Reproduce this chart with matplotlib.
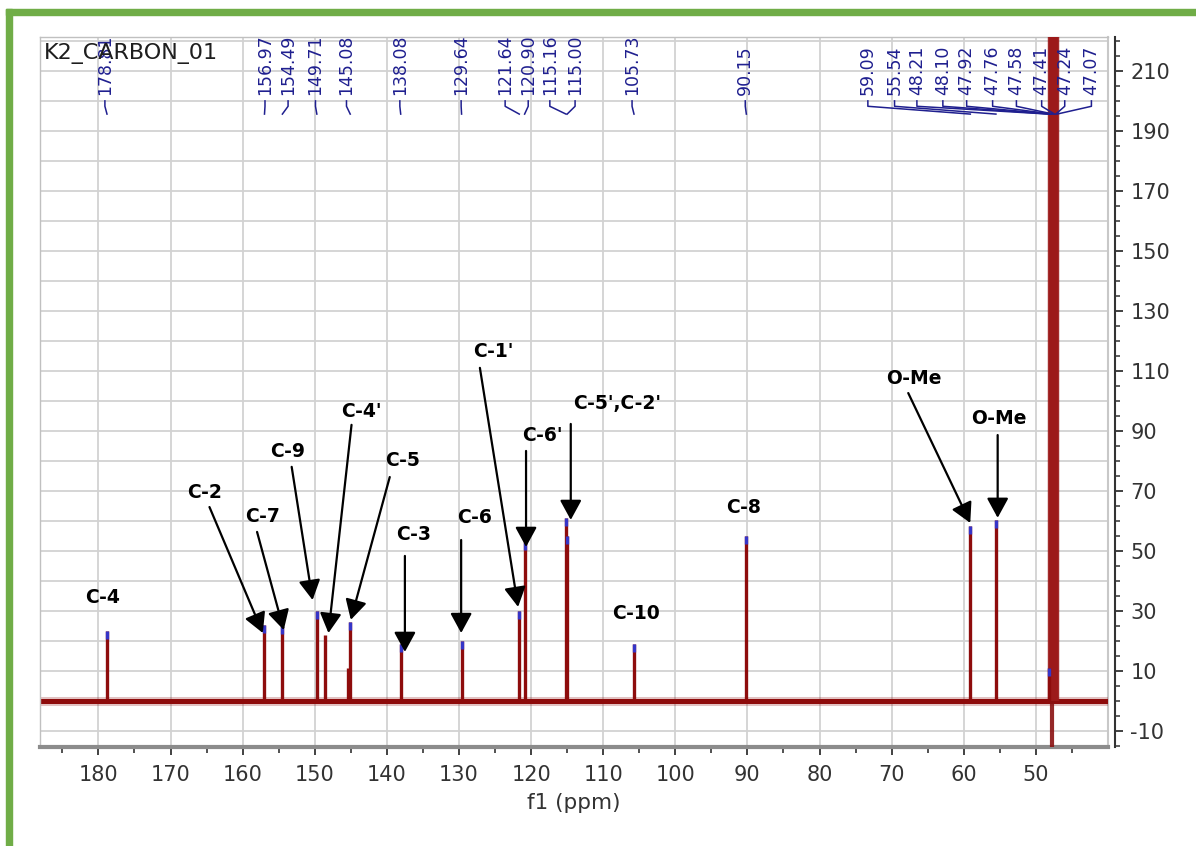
import matplotlib
matplotlib.use("Agg")
import matplotlib.pyplot as plt
from matplotlib.patches import Rectangle

plt.rcParams['font.family'] = ['DejaVu Sans']
plt.rcParams['axes.unicode_minus'] = False

# ---------------- data ----------------
peak_ppm = [178.81, 156.97, 154.49, 149.71, 148.60, 145.35, 145.08, 138.08, 129.64,
            121.64, 120.90, 115.16, 115.00, 105.73, 90.15, 59.09, 55.54]
peak_int = [23.5, 25.5, 25.0, 30.0, 22.0, 11.0, 26.5, 19.0, 20.0,
            30.0, 53.0, 61.0, 55.0, 19.0, 55.0, 58.5, 60.5]
peak_picked = [True, True, True, True, False, False, True, True, True,
               True, True, True, True, True, True, True, True]

solvent_ppm = [48.21, 48.10, 47.92, 47.76, 47.58, 47.41, 47.24, 47.07]
solvent_int = [11.0, 400.0, 400.0, 400.0, 400.0, 400.0, 400.0, 400.0]
solvent_dip_ppm = [47.76]
solvent_dip_int = [-40.0]

baseline_ppm = [188.1, 40.0]
baseline_int = [0.0, 0.0]

label_ppm = [178.81, 156.97, 154.49, 149.71, 145.08, 138.08, 129.64, 121.64, 120.90,
             115.16, 115.00, 105.73, 90.15, 59.09, 55.54, 48.21, 48.10, 47.92, 47.76,
             47.58, 47.41, 47.24, 47.07]
label_text = [f"{v:.2f}" for v in label_ppm]

assign_text = ["C-4", "C-2", "C-7", "C-9", "C-4'", "C-5", "C-3", "C-6", "C-1'",
               "C-6'", "C-5',C-2'", "C-10", "C-8", "O-Me", "O-Me"]
# arrow tips (ppm, intensity) ; None = no arrow
assign_tip = [None, (157.2, 22.8), (154.3, 23.8), (150.3, 33.8), (148.1, 22.8),
              (145.0, 27.2), (137.5, 16.5), (129.7, 22.8), (121.8, 31.5),
              (120.7, 51.5), (114.5, 60.5), None, None, (59.1, 59.5), (55.3, 61.2)]

x_ticks = list(range(180, 49, -10))
y_ticks = list(range(-10, 211, 20))

# ---------------- layout / style ----------------
TEXT_POS = [(179.4, 34.5), (165.3, 69.5), (157.3, 61.8), (153.7, 83.2), (143.5, 96.8),
            (137.8, 80.2), (136.3, 55.5), (127.9, 61.2), (125.2, 116.8), (118.5, 88.8),
            (108.1, 99.2), (105.5, 29.2), (90.6, 64.8), (66.9, 107.8), (55.1, 94.2)]
TAIL_POS = [None, (164.6, 64.8), (158.0, 56.5), (153.2, 78.2), (144.9, 92.2),
            (139.6, 74.8), (137.5, 48.5), (129.7, 53.8), (127.1, 111.2), (120.7, 83.5),
            (114.5, 92.5), None, None, (67.7, 102.8), (55.3, 88.8)]
LABEL_POS = [179.1, 156.9, 153.7, 149.9, 145.6, 138.2, 129.7, 123.6, 120.4, 117.4,
             113.9, 106.0, 90.3, 73.3, 69.6, 66.5, 62.9, 59.6, 56.0, 52.7, 49.2, 46.0, 42.3]

SPEC = "#8e0c0c"
TIP = "#3535c8"
NAVY = "#1f1f8f"
GRID = "#d2d2d2"

W, H = 1196, 846
fig = plt.figure(figsize=(W / 100, H / 100), dpi=100)
fig.patch.set_facecolor("white")

ax = fig.add_axes([40 / W, (H - 747) / H, 1068 / W, 710 / H])
ax.set_xlim(188.1, 40.0)
ax.set_ylim(-15.2, 221.5)

# grid
for gx in range(180, 40, -10):
    ax.axvline(gx, color=GRID, lw=1.3, zorder=0)
for gy in range(-10, 221, 10):
    ax.axhline(gy, color=GRID, lw=1.3, zorder=0)

# baseline noise band
ax.plot(baseline_ppm, baseline_int, color=SPEC, lw=6.5, alpha=0.25, zorder=2,
        solid_capstyle="butt")
ax.plot(baseline_ppm, baseline_int, color=SPEC, lw=3.6, zorder=2,
        solid_capstyle="butt")

# peaks
ax.vlines(peak_ppm, 0, peak_int, color=SPEC, lw=2.4, zorder=3)
for p, h, pk in zip(peak_ppm, peak_int, peak_picked):
    if pk:
        ax.vlines([p], h - 2.6, h, color=TIP, lw=2.4, zorder=4)

# solvent multiplet
ax.vlines(solvent_ppm[1:], 0, solvent_int[1:], color="#9c1a1a", lw=3.2, alpha=0.9, zorder=3)
ax.vlines(solvent_ppm[:1], 0, solvent_int[:1], color=SPEC, lw=2.4, zorder=3)
ax.vlines(solvent_ppm[:1], solvent_int[0] - 2.6, solvent_int[0], color=TIP, lw=2.4, zorder=4)
ax.vlines(solvent_dip_ppm, solvent_dip_int, 0, color="#8a1010", lw=3.0, alpha=0.9, zorder=3)

# peak labels at top
for lp, txt, pos in zip(label_ppm, label_text, LABEL_POS):
    ax.text(pos, 202.3, txt, rotation=90, ha="center", va="bottom", color=NAVY,
            fontsize=12.5, zorder=5, clip_on=False)
    ax.plot([pos, pos, lp], [200.2, 198.4, 195.8], color=NAVY, lw=1.1, zorder=5)

# title
ax.text(0.004, 0.992, "K2_CARBON_01", transform=ax.transAxes, ha="left", va="top",
        fontsize=16, color="#1e1e1e", zorder=6)

# assignments
for txt, tp, tail, tip in zip(assign_text, TEXT_POS, TAIL_POS, assign_tip):
    ax.text(tp[0], tp[1], txt, ha="center", va="center", fontsize=13.5,
            fontweight="bold", color="black", zorder=7)
    if tip is not None:
        ax.annotate("", xy=tip, xytext=tail,
                    arrowprops=dict(arrowstyle="-|>,head_length=0.55,head_width=0.3",
                                    color="black", lw=1.6, mutation_scale=22,
                                    shrinkA=0, shrinkB=0), zorder=7)

# axes styling
ax.yaxis.tick_right()
ax.yaxis.set_label_position("right")
ax.set_xticks(x_ticks)
ax.set_xticks(list(range(185, 40, -5)), minor=True)
ax.set_yticks(y_ticks)
ax.set_yticks(list(range(-15, 221, 5)), minor=True)
ax.tick_params(axis="x", which="major", direction="out", length=6, width=1.3,
               color="#333333", labelsize=15, labelcolor="#333333", pad=7)
ax.tick_params(axis="x", which="minor", direction="out", length=4, width=1.2,
               color="#333333")
ax.tick_params(axis="y", which="major", direction="out", length=6, width=1.3,
               color="#333333", labelsize=15, labelcolor="#333333", pad=5,
               left=False, right=True, labelleft=False, labelright=True)
ax.tick_params(axis="y", which="minor", direction="out", length=3.5, width=1.1,
               color="#333333", left=False, right=True)

for side in ["top", "left"]:
    ax.spines[side].set_color("#c0c0c0")
    ax.spines[side].set_linewidth(1.0)
ax.spines["bottom"].set_color("#8c8c8c")
ax.spines["bottom"].set_linewidth(3)
ax.spines["right"].set_position(("outward", 5))
ax.spines["right"].set_color("#333333")
ax.spines["right"].set_linewidth(1.5)
ax.plot([1, 1], [0, 1], transform=ax.transAxes, color="#c8c8c8", lw=1.5,
        clip_on=False, zorder=1)

ax.set_xlabel("f1 (ppm)", fontsize=15.5, color="#333333", labelpad=6)

# green frame
GREEN = "#70ad47"
fig.add_artist(Rectangle((6 / W, 0), 6 / W, (H - 9) / H, transform=fig.transFigure,
                         color=GREEN, zorder=10))
fig.add_artist(Rectangle((6 / W, (H - 15) / H), (W - 6) / W, 6 / H,
                         transform=fig.transFigure, color=GREEN, zorder=10))

fig.savefig("out.png", dpi=100, facecolor="white")
